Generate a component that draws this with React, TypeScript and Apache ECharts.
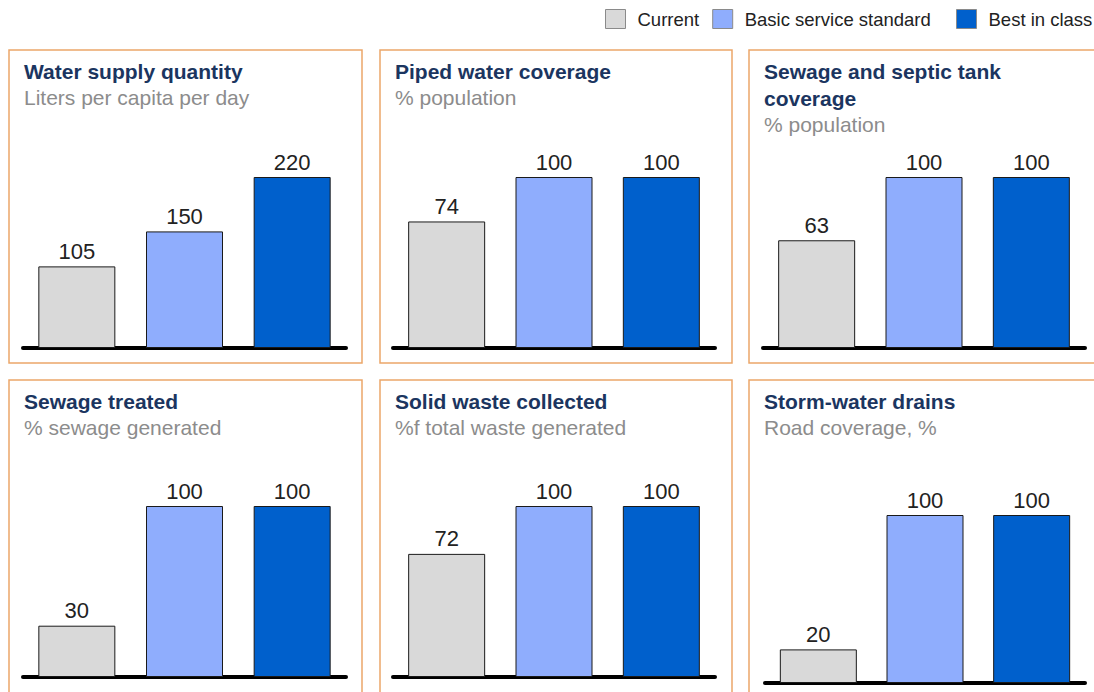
import React, { useEffect, useRef } from "react";
import * as echarts from "echarts";

const seriesNames = ["Current", "Basic service standard", "Best in class"];
const panelTitles = [
  "Water supply quantity",
  "Piped water coverage",
  "Sewage and septic tank\ncoverage",
  "Sewage treated",
  "Solid waste collected",
  "Storm-water drains",
];
const panelSubtitles = [
  "Liters per capita per day",
  "% population",
  "% population",
  "% sewage generated",
  "%f total waste generated",
  "Road coverage, %",
];
const currentValues = [105, 74, 63, 30, 72, 20];
const basicValues = [150, 100, 100, 100, 100, 100];
const bestValues = [220, 100, 100, 100, 100, 100];
const categories = ["Current", "Basic", "Best"];

const colors = ["#D9D9D9", "#8FADFD", "#0060CC"];
const FONT = "'Liberation Sans', Arial, Helvetica, sans-serif";

// layout per panel (box and plot area)
const boxes = [
  { x: 9, y: 50, w: 353, h: 313 },
  { x: 380, y: 50, w: 352, h: 313 },
  { x: 749, y: 50, w: 353, h: 313 },
  { x: 9, y: 380, w: 353, h: 320 },
  { x: 380, y: 380, w: 352, h: 320 },
  { x: 749, y: 380, w: 353, h: 320 },
];
const grids = [
  { left: 23, top: 177, width: 323, height: 171 },
  { left: 393, top: 177, width: 322, height: 171 },
  { left: 763, top: 177, width: 322, height: 171 },
  { left: 23, top: 506, width: 323, height: 171 },
  { left: 393, top: 506, width: 322, height: 171 },
  { left: 765, top: 515, width: 320, height: 168 },
];

export default function App() {
  const ref = useRef<HTMLDivElement>(null);
  useEffect(() => {
    if (!ref.current) return;
    const chart = echarts.init(ref.current, undefined, { renderer: "svg" });
    const valueSets = [currentValues, basicValues, bestValues];
    const series: any[] = [];
    panelTitles.forEach((_, i) => {
      valueSets.forEach((vals, k) => {
        const data = categories.map((_, c) => (c === k ? vals[i] : "-"));
        series.push({
          type: "bar",
          name: seriesNames[k],
          xAxisIndex: i,
          yAxisIndex: i,
          data,
          barWidth: 77,
          barGap: "-100%",
          itemStyle: { color: colors[k], borderColor: "#1a1a1a", borderWidth: 1 },
          label: {
            show: true,
            position: "top",
            distance: 4,
            color: "#222",
            fontFamily: FONT,
            fontSize: 22,
          },
        });
      });
    });
    const graphic: any[] = [];
    boxes.forEach((b, i) => {
      graphic.push({
        type: "rect",
        shape: { x: b.x, y: b.y, width: b.w, height: b.h },
        style: { fill: "none", stroke: "#EBA66A", lineWidth: 1.5 },
        silent: true,
      });
      const lines = panelTitles[i].split("\n").length;
      graphic.push({
        type: "text",
        x: b.x + 15,
        y: b.y + 21 - 13.5,
        style: {
          text: panelTitles[i],
          font: `bold 21px ${FONT}`,
          fill: "#1B3560",
          verticalAlign: "top",
          lineHeight: 27,
        },
        silent: true,
      });
      graphic.push({
        type: "text",
        x: b.x + 15,
        y: b.y + 21 + 26.5 * lines,
        style: {
          text: panelSubtitles[i],
          font: `21px ${FONT}`,
          fill: "#8C8C8C",
          verticalAlign: "middle",
        },
        silent: true,
      });
    });
    const legendBase = {
      top: 9,
      padding: 0,
      icon: "rect",
      itemWidth: 20,
      itemHeight: 19,
      itemGap: 13,
      itemStyle: { borderColor: "#8a8a8a", borderWidth: 1 },
      textStyle: {
        fontFamily: FONT,
        fontSize: 18.5,
        color: "#222",
        padding: [0, 0, 0, 7],
      },
      selectedMode: false,
    };
    chart.setOption({
      animation: false,
      backgroundColor: "#fff",
      legend: [
        { ...legendBase, left: 605, data: seriesNames.slice(0, 2) },
        { ...legendBase, left: 956, data: seriesNames.slice(2) },
      ],
      grid: grids.map((g) => ({ ...g })),
      xAxis: grids.map((_, i) => ({
        type: "category",
        gridIndex: i,
        data: categories,
        axisLine: { show: true, lineStyle: { color: "#000", width: 4 } },
        axisTick: { show: false },
        axisLabel: { show: false },
      })),
      yAxis: grids.map((_, i) => ({
        type: "value",
        gridIndex: i,
        min: 0,
        max: Math.max(currentValues[i], basicValues[i], bestValues[i]),
        show: false,
        splitLine: { show: false },
      })),
      series,
      graphic,
    });
    return () => chart.dispose();
  }, []);
  return <div ref={ref} style={{ width: 1094, height: 692, position: "absolute", left: 0, top: 0 }} />;
}
